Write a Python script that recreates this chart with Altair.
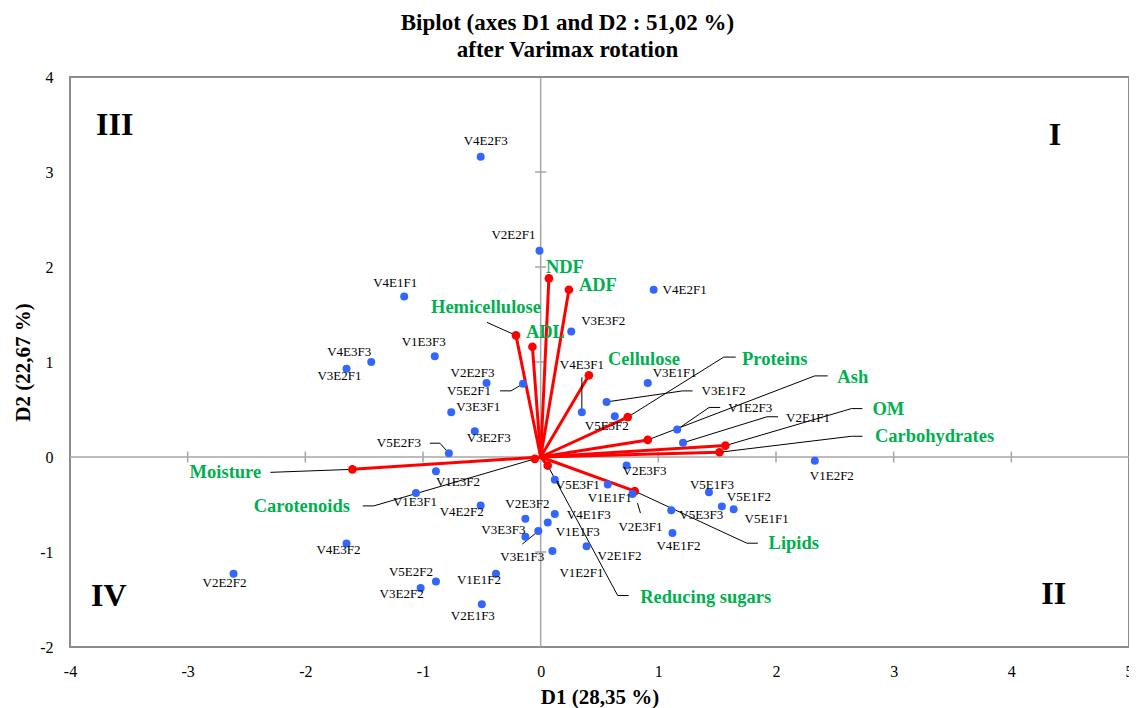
import altair as alt
import pandas as pd

# ---------------- data ----------------
obs_names = ["V4E2F3", "V2E2F1", "V4E1F1", "V4E2F1", "V3E3F2", "V1E3F3", "V4E3F3", "V3E2F1",
             "V2E2F3", "V5E2F1", "V3E3F1", "V3E2F3", "V5E2F3", "V4E3F1", "V3E1F1", "V3E1F2",
             "V5E3F2", "V1E2F3", "V2E1F1", "V1E2F2", "V2E3F3", "V5E3F1", "V1E1F1", "V2E3F1",
             "V5E1F3", "V5E1F2", "V5E1F1", "V5E3F3", "V4E1F2", "V1E3F2", "V1E3F1", "V4E2F2",
             "V4E3F2", "V2E2F2", "V2E3F2", "V4E1F3", "V1E1F3", "V3E1F3", "V3E3F3", "V2E1F2",
             "V1E2F1", "V1E1F2", "V5E2F2", "V3E2F2", "V2E1F3"]
obs_d1 = [-0.51, -0.01, -1.16, 0.96, 0.26, -0.90, -1.44, -1.65,
          -0.46, -0.15, -0.76, -0.56, -0.78, 0.35, 0.91, 0.56,
          0.63, 1.16, 1.21, 2.33, 0.73, 0.12, 0.57, 0.78,
          1.43, 1.54, 1.64, 1.11, 1.12, -0.89, -1.06, -0.51,
          -1.65, -2.61, -0.13, 0.12, 0.06, -0.02, -0.13, 0.39,
          0.10, -0.38, -0.89, -1.02, -0.50]
obs_d2 = [3.16, 2.17, 1.69, 1.76, 1.32, 1.06, 1.00, 0.93,
          0.78, 0.77, 0.47, 0.27, 0.04, 0.47, 0.78, 0.58,
          0.43, 0.29, 0.15, -0.04, -0.09, -0.24, -0.29, -0.39,
          -0.37, -0.52, -0.55, -0.56, -0.80, -0.15, -0.38, -0.51,
          -0.91, -1.23, -0.65, -0.60, -0.69, -0.78, -0.84, -0.94,
          -0.99, -1.23, -1.31, -1.38, -1.55]

var_names = ["NDF", "ADF", "Hemicellulose", "ADL", "Cellulose", "Proteins", "Ash", "OM",
             "Carbohydrates", "Lipids", "Reducing sugars", "Moisture", "Carotenoids"]
var_d1 = [0.07, 0.24, -0.21, -0.07, 0.41, 0.74, 0.91, 1.57, 1.52, 0.80, 0.06, -1.60, -0.05]
var_d2 = [1.88, 1.76, 1.28, 1.16, 0.86, 0.42, 0.18, 0.12, 0.05, -0.36, -0.09, -0.13, -0.02]

x_ticks = [-4, -3, -2, -1, 0, 1, 2, 3, 4, 5]
y_ticks = [-2, -1, 0, 1, 2, 3, 4]

quadrant_names = ["III", "I", "IV", "II"]
quadrant_d1 = [-3.62, 4.37, -3.67, 4.36]
quadrant_d2 = [3.50, 3.39, -1.46, -1.44]

title_lines = ["Biplot (axes D1 and D2 : 51,02 %)", "after Varimax rotation"]
x_title = "D1 (28,35 %)"
y_title = "D2 (22,67 %)"

# ---------------- layout (pixel offsets of labels / leader lines) ----------------
W, H = 1059, 570
PX_X = W / 9.0
PX_Y = H / 6.0

obs_label_off = {
    "V4E2F3": (5, -16), "V2E2F1": (-26, -16), "V4E1F1": (-9, -13), "V4E2F1": (31, 0),
    "V3E3F2": (32, -11), "V1E3F3": (-11, -14), "V4E3F3": (-22, -10), "V3E2F1": (-7, 7),
    "V2E2F3": (-14, -10), "V5E2F1": (-54, 7), "V3E3F1": (27, -5), "V3E2F3": (14, 7),
    "V5E2F3": (-50, -10), "V4E3F1": (0, -47), "V3E1F1": (27, -10), "V3E1F2": (117, -11),
    "V5E3F2": (-8, 10), "V1E2F3": (73, -21), "V2E1F1": (125, -25), "V1E2F2": (17, 15),
    "V2E3F3": (18, 5), "V5E3F1": (23, 5), "V1E1F1": (2, 13), "V2E3F1": (8, 33),
    "V5E1F3": (3, -7), "V5E1F2": (27, -9), "V5E1F1": (33, 10), "V5E3F3": (30, 5),
    "V4E1F2": (6, 13), "V1E3F2": (22, 11), "V1E3F1": (-1, 9), "V4E2F2": (-19, 7),
    "V4E3F2": (-8, 7), "V2E2F2": (-9, 9), "V2E3F2": (2, -15), "V4E1F3": (34, 1),
    "V1E1F3": (30, 9), "V3E1F3": (-16, 26), "V3E3F3": (-22, -7), "V2E1F2": (33, 10),
    "V1E2F1": (29, 22), "V1E1F2": (-17, 6), "V5E2F2": (-25, -9), "V3E2F2": (-19, 6),
    "V2E1F3": (-9, 12),
}
obs_leaders = {
    "V5E2F1": [(0, 0), (-12, 7), (-23, 7)],
    "V5E2F3": [(0, 0), (-9, -10), (-19, -10)],
    "V4E3F1": [(0, 0), (0, -35)],
    "V3E1F2": [(0, 0), (76, -11), (86, -11)],
    "V1E2F3": [(0, 0), (32, -22), (43, -22)],
    "V2E1F1": [(0, 0), (84, -26), (95, -26)],
    "V2E3F1": [(5, 9), (8, 19)],
    "V3E1F3": [(0, 0), (-16, 13)],
}
var_label_off = {
    "NDF": (16, -11), "ADF": (29, -5), "Hemicellulose": (-30, -28), "ADL": (13, -15),
    "Cellulose": (55, -16), "Proteins": (147, -58), "Ash": (205, -63), "OM": (163, -37),
    "Carbohydrates": (215, -16), "Lipids": (159, 52), "Reducing sugars": (158, 131),
    "Moisture": (-127, 3), "Carotenoids": (-233, 47),
}
var_leaders = {
    "Hemicellulose": [(0, 0), (-29, -13)],
    "Proteins": [(0, 0), (96, -60), (108, -60)],
    "Ash": [(0, 0), (167, -64), (180, -64)],
    "OM": [(0, 0), (126, -37), (137, -37)],
    "Carbohydrates": [(0, 0), (132, -16), (143, -16)],
    "Lipids": [(0, 0), (112, 52), (123, 52)],
    "Reducing sugars": [(0, 0), (70, 130), (81, 130)],
    "Moisture": [(0, 0), (-82, 3)],
    "Carotenoids": [(0, 0), (-161, 47), (-172, 47)],
}


def shift(x, y, dx, dy):
    return x + dx / PX_X, y - dy / PX_Y


obs_df = pd.DataFrame({"name": obs_names, "d1": obs_d1, "d2": obs_d2})
obs_df["lx"] = [shift(x, y, *obs_label_off[n])[0] for n, x, y in zip(obs_names, obs_d1, obs_d2)]
obs_df["ly"] = [shift(x, y, *obs_label_off[n])[1] for n, x, y in zip(obs_names, obs_d1, obs_d2)]

var_df = pd.DataFrame({"name": var_names, "d1": var_d1, "d2": var_d2,
                       "o1": [0.0] * len(var_names), "o2": [0.0] * len(var_names)})
var_df["lx"] = [shift(x, y, *var_label_off[n])[0] for n, x, y in zip(var_names, var_d1, var_d2)]
var_df["ly"] = [shift(x, y, *var_label_off[n])[1] for n, x, y in zip(var_names, var_d1, var_d2)]

rows = []
for names, d1s, d2s, leaders in [(obs_names, obs_d1, obs_d2, obs_leaders),
                                 (var_names, var_d1, var_d2, var_leaders)]:
    for n, x, y in zip(names, d1s, d2s):
        if n in leaders:
            for k, (dx, dy) in enumerate(leaders[n]):
                px, py = shift(x, y, dx, dy)
                rows.append({"id": n, "k": k, "x": px, "y": py})
lead_df = pd.DataFrame(rows)

quad_df = pd.DataFrame({"q": quadrant_names, "d1": quadrant_d1, "d2": quadrant_d2})
xt_df = pd.DataFrame({"v": [t for t in x_ticks if t not in (0, -4, 5)], "z": 0})
yt_df = pd.DataFrame({"v": [t for t in y_ticks if t not in (0, -2, 4)], "z": 0})
zero_df = pd.DataFrame({"v": [0]})

FONT = "Times New Roman, Liberation Serif, serif"
xscale = alt.Scale(domain=[-4, 5], nice=False, zero=False)
yscale = alt.Scale(domain=[-2, 4], nice=False, zero=False)
xaxis = alt.Axis(values=x_ticks, grid=False, ticks=False, tickSize=0, domain=False,
                 labelFlush=False, labelExpr="datum.value + ''",
                 labelFont=FONT, labelFontSize=16, labelPadding=16, labelColor="#000",
                 title=x_title, titleFont=FONT, titleFontSize=21, titleFontWeight="bold",
                 titleColor="#000", titlePadding=7)
yaxis = alt.Axis(values=y_ticks, grid=False, ticks=False, tickSize=0, domain=False,
                 labelFlush=False, labelExpr="datum.value + ''",
                 labelFont=FONT, labelFontSize=16, labelPadding=17, labelColor="#000",
                 title=y_title, titleFont=FONT, titleFontSize=21, titleFontWeight="bold",
                 titleColor="#000", titlePadding=6)


def X(field):
    return alt.X(field, type="quantitative", scale=xscale, axis=xaxis)


def Y(field):
    return alt.Y(field, type="quantitative", scale=yscale, axis=yaxis)


GRAY = "#a6a6a6"
vline = alt.Chart(zero_df).mark_rule(color=GRAY, strokeWidth=1.5).encode(x=X("v"))
hline = alt.Chart(zero_df).mark_rule(color=GRAY, strokeWidth=1.5).encode(y=Y("v"))
xticks_m = alt.Chart(xt_df).mark_tick(orient="vertical", size=11, thickness=1.5, color=GRAY,
                                      opacity=1).encode(x=X("v"), y=Y("z"))
yticks_m = alt.Chart(yt_df).mark_tick(orient="horizontal", size=11, thickness=1.5, color=GRAY,
                                      opacity=1).encode(x=X("z"), y=Y("v"))

vectors = alt.Chart(var_df).mark_rule(color="#ff0000", strokeWidth=3).encode(
    x=X("o1"), y=Y("o2"), x2="d1", y2="d2")
var_dots = alt.Chart(var_df).mark_circle(color="#ff0000", size=75, opacity=1).encode(
    x=X("d1"), y=Y("d2"))
obs_dots = alt.Chart(obs_df).mark_circle(color="#3366ff", size=64, opacity=1).encode(
    x=X("d1"), y=Y("d2"))
leaders = alt.Chart(lead_df).mark_line(color="#000000", strokeWidth=1).encode(
    x=X("x"), y=Y("y"), detail="id:N", order="k:Q")
obs_text = alt.Chart(obs_df).mark_text(font=FONT, fontSize=13, color="#000000",
                                       align="center", baseline="middle").encode(
    x=X("lx"), y=Y("ly"), text="name:N")
var_text = alt.Chart(var_df).mark_text(font=FONT, fontSize=18.5, fontWeight="bold",
                                       color="#00b050", align="center",
                                       baseline="middle").encode(
    x=X("lx"), y=Y("ly"), text="name:N")
quad_text = alt.Chart(quad_df).mark_text(font=FONT, fontSize=32, fontWeight="bold",
                                         color="#000000", align="center",
                                         baseline="middle").encode(
    x=X("d1"), y=Y("d2"), text="q:N")

chart = alt.layer(
    vline, hline, xticks_m, yticks_m, vectors, leaders, var_dots, obs_dots,
    obs_text, var_text, quad_text
).properties(
    width=W, height=H,
    title=alt.TitleParams(title_lines, font=FONT, fontSize=23, fontWeight="bold",
                          color="#000", anchor="middle", dx=-32, offset=7, lineHeight=27),
    autosize=alt.AutoSizeParams(type="none"),
    padding={"left": 62, "top": 69, "right": 0, "bottom": 61},
).configure_view(stroke="#8c8c8c", strokeWidth=2)

chart.save("out.html", embed_options={"renderer": "svg", "actions": False})
